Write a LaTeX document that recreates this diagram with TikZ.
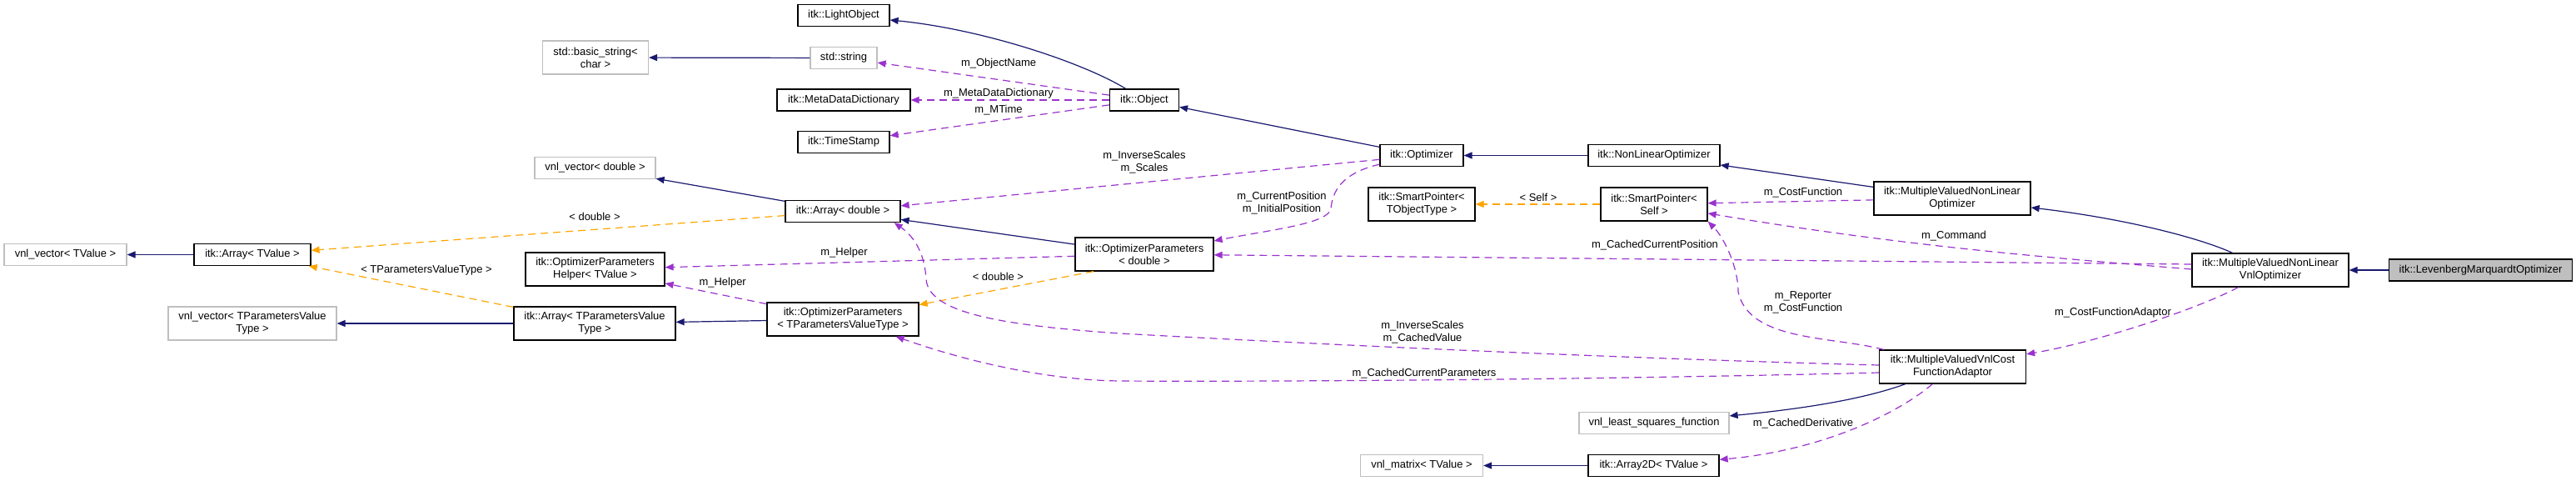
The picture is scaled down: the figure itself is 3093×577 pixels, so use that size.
\documentclass[tikz,border=0pt]{standalone}
\usepackage{fontspec}
\setmainfont{Liberation Sans}
\usepackage{tikz}
\usetikzlibrary{arrows.meta,calc}
\definecolor{EdgeNavy}{HTML}{191970}
\definecolor{EdgePurple}{HTML}{9A32CD}
\definecolor{EdgeOrange}{HTML}{FFA500}
\definecolor{BoxGray}{HTML}{BFBFBF}

\begin{document}
\begin{tikzpicture}[x=1bp, y=-1bp,
  every node/.style={font=\fontsize{13}{15}\selectfont, align=center},
  cls/.style={draw=black, line width=1.2bp, fill=white, inner sep=1bp},
  ext/.style={cls, draw=BoxGray},
  focus/.style={cls, fill=BoxGray},
  lbl/.style={inner sep=0pt},
  inherit/.style={EdgeNavy, line width=1.2bp, -{Triangle[length=10bp,width=8bp]}},
  member/.style={EdgePurple, line width=1.2bp, dash pattern=on 9bp off 6bp, -{Triangle[length=10bp,width=8bp]}},
  templ/.style={EdgeOrange, line width=1.2bp, dash pattern=on 9bp off 6bp, -{Triangle[length=10bp,width=8bp]}}]
  \useasboundingbox (0,0) rectangle (3093,577);

  % classes
  \node[cls, minimum width=110bp, minimum height=26bp] (lightobj) at (1013,18.5) {itk::LightObject};
  \node[ext, minimum width=127bp, minimum height=40bp] (basicstr) at (715,69) {std::basic\_string<\\char >};
  \node[ext, minimum width=80bp, minimum height=26bp] (stdstring) at (1013,69.5) {std::string};
  \node[cls, minimum width=160bp, minimum height=26bp] (metadict) at (1013,120) {itk::MetaDataDictionary};
  \node[cls, minimum width=83bp, minimum height=26bp] (object) at (1374,120) {itk::Object};
  \node[cls, minimum width=110bp, minimum height=26bp] (timestamp) at (1013,170.5) {itk::TimeStamp};
  \node[ext, minimum width=145bp, minimum height=26bp] (vnlvecdbl) at (714.5,201.5) {vnl\_vector< double >};
  \node[cls, minimum width=100bp, minimum height=26bp] (optimizer) at (1707,186.5) {itk::Optimizer};
  \node[cls, minimum width=158bp, minimum height=26bp] (nonlinopt) at (1986,186.5) {itk::NonLinearOptimizer};
  \node[cls, minimum width=138bp, minimum height=26bp] (arraydbl) at (1012,253.5) {itk::Array< double >};
  \node[cls, minimum width=128bp, minimum height=40bp] (sptrobj) at (1707,245) {itk::SmartPointer<\\TObjectType >};
  \node[cls, minimum width=128bp, minimum height=40bp] (sptrself) at (1986,245) {itk::SmartPointer<\\Self >};
  \node[cls, minimum width=188bp, minimum height=40bp] (mvnlopt) at (2344,238) {itk::MultipleValuedNonLinear\\Optimizer};
  \node[ext, minimum width=147bp, minimum height=26bp] (vnlvectval) at (78.5,305.5) {vnl\_vector< TValue >};
  \node[cls, minimum width=140bp, minimum height=26bp] (arraytval) at (303,305.5) {itk::Array< TValue >};
  \node[cls, minimum width=167bp, minimum height=40bp] (helper) at (714.5,323) {itk::OptimizerParameters\\Helper< TValue >};
  \node[cls, minimum width=166bp, minimum height=40bp] (optparamdbl) at (1374,305) {itk::OptimizerParameters\\< double >};
  \node[cls, minimum width=188bp, minimum height=40bp] (mvnlvnlopt) at (2726,324) {itk::MultipleValuedNonLinear\\VnlOptimizer};
  \node[focus, minimum width=220bp, minimum height=26bp] (levenberg) at (2978.5,324) {itk::LevenbergMarquardtOptimizer};
  \node[ext, minimum width=202bp, minimum height=40bp] (vnlvecparam) at (303,388) {vnl\_vector< TParametersValue\\Type >};
  \node[cls, minimum width=194bp, minimum height=40bp] (arrayparam) at (714,388) {itk::Array< TParametersValue\\Type >};
  \node[cls, minimum width=182bp, minimum height=40bp] (optparamtp) at (1012,383) {itk::OptimizerParameters\\< TParametersValueType >};
  \node[cls, minimum width=176bp, minimum height=40bp] (adaptor) at (2344.5,440) {itk::MultipleValuedVnlCost\\FunctionAdaptor};
  \node[ext, minimum width=180bp, minimum height=26bp] (lsqfunc) at (1986,507.5) {vnl\_least\_squares\_function};
  \node[ext, minimum width=147bp, minimum height=26bp] (vnlmatrix) at (1707,558.5) {vnl\_matrix< TValue >};
  \node[cls, minimum width=157bp, minimum height=26bp] (array2d) at (1985.5,558.5) {itk::Array2D< TValue >};

  % connectors
  \draw[inherit] (object) .. controls (1300,75) and (1180,35) .. (lightobj);
  \draw[inherit] (stdstring) -- (basicstr);
  \draw[member] (object) -- (stdstring);
  \draw[member] (object) -- (metadict);
  \draw[member] (object) -- (timestamp);
  \draw[inherit] (optimizer) -- (object);
  \draw[inherit] (nonlinopt) -- (optimizer);
  \draw[inherit] (mvnlopt) -- (nonlinopt);
  \draw[inherit] (mvnlvnlopt) .. controls (2640,285) and (2550,262) .. (mvnlopt);
  \draw[inherit] (levenberg) -- (mvnlvnlopt);
  \draw[member] (optimizer) -- (arraydbl);
  \draw[member] ($(optimizer.south west)+(0,-3)$) .. controls (1610,208) and (1600,230) .. (1598,250)
    .. controls (1596,268) and (1530,275) .. (optparamdbl);
  \draw[inherit] (arraydbl) -- (vnlvecdbl);
  \draw[templ] (arraydbl) -- (arraytval);
  \draw[inherit] (arraytval) -- (vnlvectval);
  \draw[inherit] (optparamdbl) -- (arraydbl);
  \draw[member] (optparamdbl) -- (helper);
  \draw[member] (optparamtp) -- (helper);
  \draw[inherit] (optparamtp) -- (arrayparam);
  \draw[inherit] (arrayparam) -- (vnlvecparam);
  \draw[templ] (arrayparam) -- (arraytval);
  \draw[templ] ($(optparamdbl.south)+(-61,0)$) -- (optparamtp);
  \draw[templ] (sptrself) -- (sptrobj);
  \draw[member] (mvnlopt) -- (sptrself);
  \draw[member] ($(mvnlvnlopt.west)+(0,-1)$) .. controls (2500,312) and (2300,298) .. (sptrself);
  \draw[member] ($(mvnlvnlopt.west)+(0,-7)$) -- (optparamdbl);
  \draw[member] (mvnlvnlopt) .. controls (2640,370) and (2520,410) .. (adaptor);
  \draw[member] ($(adaptor.north west)+(6,0)$) .. controls (2200,403) and (2100,410) .. (2087,350)
    .. controls (2087,320) and (2070,285) .. (sptrself.south east);
  \draw[member] ($(adaptor.west)+(0,-2)$) .. controls (1950,430) and (1600,414) .. (1345,400)
    .. controls (1200,390) and (1115,375) .. (1112,335)
    .. controls (1110,300) and (1095,282) .. ($(arraydbl.south east)+(-8,0)$);
  \draw[member] ($(adaptor.west)+(0,7)$) .. controls (1900,456) and (1500,458) .. (1345,457)
    .. controls (1250,456) and (1150,430) .. ($(optparamtp.south east)+(-28,0)$);
  \draw[inherit] (adaptor) .. controls (2240,478) and (2170,490) .. (lsqfunc);
  \draw[member] (adaptor) .. controls (2280,495) and (2190,540) .. (array2d);
  \draw[inherit] (array2d) -- (vnlmatrix);

  % edge labels
  \node[lbl] (lbldblA) at (714,260) {< double >};
  \node[lbl] (lbltparam) at (512,324) {< TParametersValueType >};
  \node[lbl] (lblobjname) at (1199,75.7) {m\_ObjectName};
  \node[lbl] (lblmetadict) at (1199,111.7) {m\_MetaDataDictionary};
  \node[lbl] (lblmtime) at (1199,131.7) {m\_MTime};
  \node[lbl] (lblscales) at (1374,195) {m\_InverseScales\\m\_Scales};
  \node[lbl] (lblposition) at (1539,244) {m\_CurrentPosition\\m\_InitialPosition};
  \node[lbl] (lblhelperA) at (1013.5,303.3) {m\_Helper};
  \node[lbl] (lblhelperB) at (867.7,339) {m\_Helper};
  \node[lbl] (lbldblB) at (1198.4,331.7) {< double >};
  \node[lbl] (lblcachedval) at (1708,399) {m\_InverseScales\\m\_CachedValue};
  \node[lbl] (lblcachedpar) at (1710,448.3) {m\_CachedCurrentParameters};
  \node[lbl] (lblself) at (1847,236.7) {< Self >};
  \node[lbl] (lblcostfn) at (2165,231) {m\_CostFunction};
  \node[lbl] (lblcommand) at (2346,282.7) {m\_Command};
  \node[lbl] (lblcachedpos) at (1987,294.5) {m\_CachedCurrentPosition};
  \node[lbl] (lblreporter) at (2165,363) {m\_Reporter\\m\_CostFunction};
  \node[lbl] (lblderiv) at (2165,507.7) {m\_CachedDerivative};
  \node[lbl] (lbladaptor) at (2537,375) {m\_CostFunctionAdaptor};
\end{tikzpicture}
\end{document}
